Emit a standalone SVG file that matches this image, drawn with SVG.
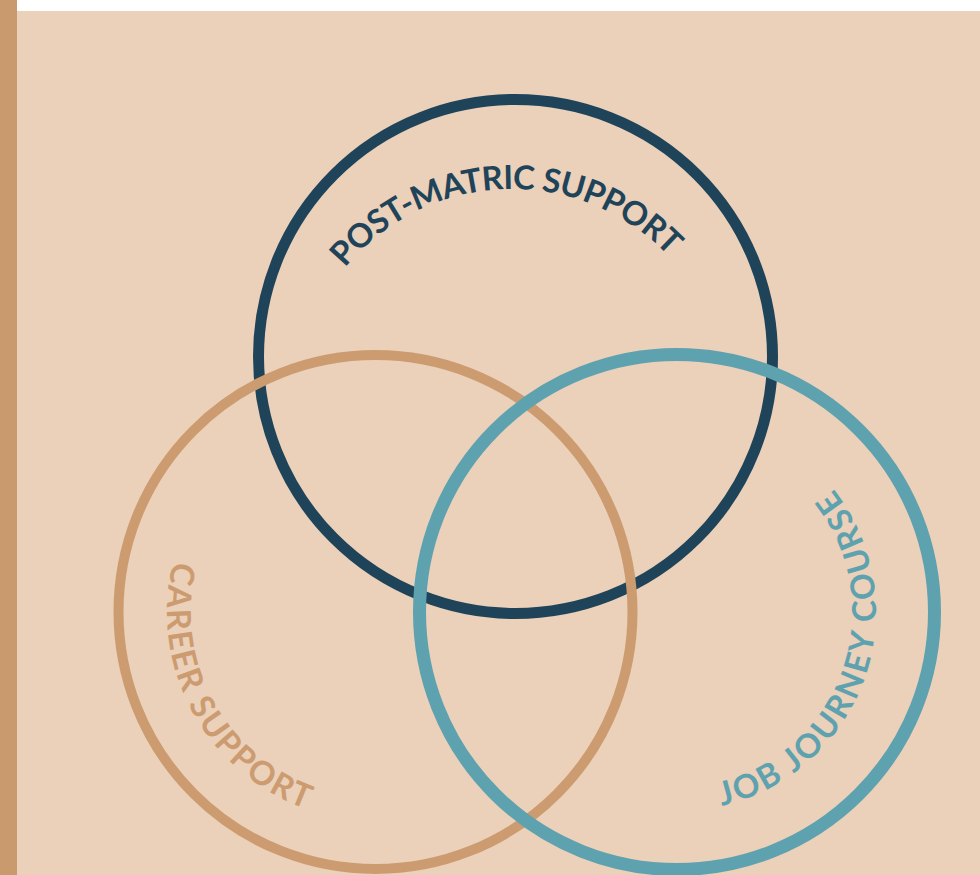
<svg xmlns="http://www.w3.org/2000/svg" xmlns:xlink="http://www.w3.org/1999/xlink" width="980" height="875" viewBox="0 0 980 875">
  <style>
    .ring { fill: none; }
    .lbl { font-family: Lato, "Open Sans", "Liberation Sans", sans-serif; font-weight: 700; font-size: 33px; }
  </style>
  <defs>
    <path id="arcPost" d="M 345.1 267.9 A 216 216 0 0 1 715.0 331.1"/>
    <path id="arcCareer" d="M 173.2 561.4 A 209 209 0 0 0 376 821"/>
    <path id="arcJob" d="M 721.8 805.9 A 199 199 0 0 0 776.5 439.7"/>
  </defs>
  <rect x="0" y="0" width="980" height="875" fill="#EBD0BA"/>
  <rect x="17" y="0" width="963" height="11" fill="#FFFFFF"/>
  <rect x="0" y="0" width="17" height="875" fill="#C99A6E"/>

  <g id="post-matric">
    <circle class="ring" cx="515.5" cy="356.5" r="257" stroke="#1F4459" stroke-width="11"/>
    <text class="lbl" fill="#1F4459"><textPath xlink:href="#arcPost" href="#arcPost" textLength="366" lengthAdjust="spacing">POST-MATRIC SUPPORT</textPath></text>
  </g>
  <g id="career">
    <circle class="ring" cx="375.5" cy="612" r="257" stroke="#CC9C70" stroke-width="10"/>
    <text class="lbl" fill="#CC9C70"><textPath xlink:href="#arcCareer" href="#arcCareer" textLength="308" lengthAdjust="spacing">CAREER SUPPORT</textPath></text>
  </g>
  <g id="job-journey">
    <circle class="ring" cx="677" cy="612" r="257.5" stroke="#5EA2AF" stroke-width="13"/>
    <text class="lbl" fill="#5EA2AF"><textPath xlink:href="#arcJob" href="#arcJob" textLength="400" lengthAdjust="spacing">JOB JOURNEY COURSE</textPath></text>
  </g>
  <g id="connectors"/>
</svg>
